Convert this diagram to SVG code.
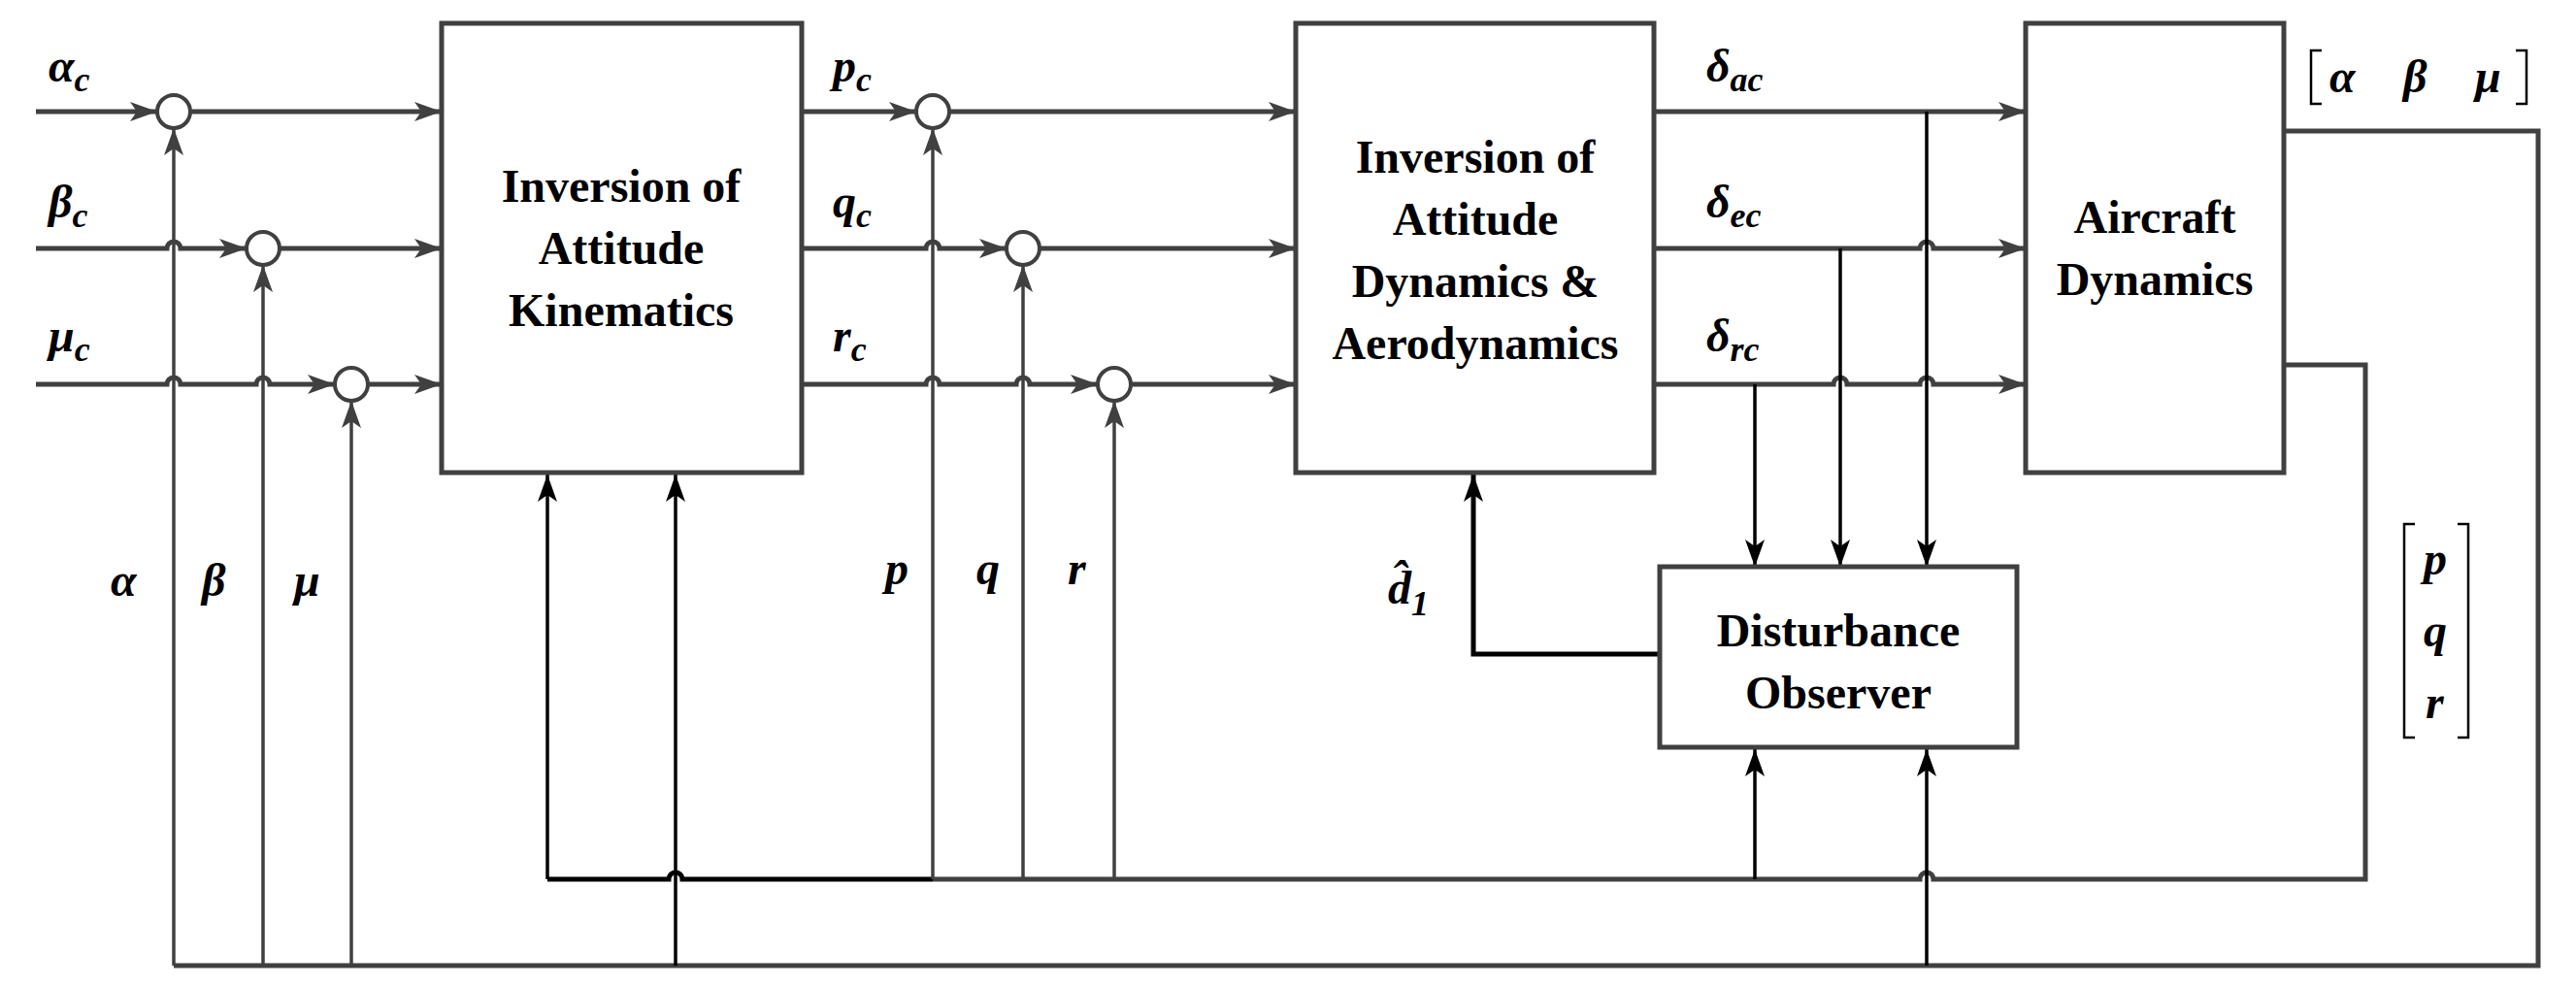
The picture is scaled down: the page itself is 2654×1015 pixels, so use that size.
<svg xmlns="http://www.w3.org/2000/svg" width="2654" height="1015" viewBox="0 0 2654 1015">
<style>
.box{fill:#fff;stroke:#404040;stroke-width:5}
.bt{font-family:"Liberation Serif",serif;font-weight:bold;font-size:48px;text-anchor:middle;fill:#000}
.lb{font-family:"Liberation Serif",serif;font-style:italic;font-weight:bold;font-size:48px;fill:#000}
.sub{font-size:36px}
.g{fill:none;stroke:#404040;stroke-width:5}
.gt{fill:none;stroke:#404040;stroke-width:3.5}
.k{fill:none;stroke:#000;stroke-width:3.5}
.kb{fill:none;stroke:#000;stroke-width:5}
.sum{fill:#fff;stroke:#404040;stroke-width:4}
.br{fill:none;stroke:#000;stroke-width:2.5}
</style>
<defs>
<marker id="ag" markerUnits="userSpaceOnUse" markerWidth="30" markerHeight="20" refX="28" refY="10" orient="auto"><path d="M0,0 L28,10 L0,20 L7,10 Z" fill="#404040"/></marker>
<marker id="ak" markerUnits="userSpaceOnUse" markerWidth="30" markerHeight="20" refX="28" refY="10" orient="auto"><path d="M0,0 L28,10 L0,20 L7,10 Z" fill="#000"/></marker>
</defs>
<g id="connectors">
<path class="g" d="M37,115 H162" marker-end="url(#ag)"/>
<path class="g" d="M37,256 H172 A7 7 0 0 1 186 256 H254" marker-end="url(#ag)"/>
<path class="g" d="M37,396 H172 A7 7 0 0 1 186 396 H264 A7 7 0 0 1 278 396 H345" marker-end="url(#ag)"/>
<path class="g" d="M196,115 H455" marker-end="url(#ag)"/>
<path class="g" d="M288,256 H455" marker-end="url(#ag)"/>
<path class="g" d="M379,396 H455" marker-end="url(#ag)"/>
<path class="g" d="M826,115 H944" marker-end="url(#ag)"/>
<path class="g" d="M826,256 H954 A7 7 0 0 1 968 256 H1037" marker-end="url(#ag)"/>
<path class="g" d="M826,396 H954 A7 7 0 0 1 968 396 H1047 A7 7 0 0 1 1061 396 H1131" marker-end="url(#ag)"/>
<path class="g" d="M978,115 H1335" marker-end="url(#ag)"/>
<path class="g" d="M1071,256 H1335" marker-end="url(#ag)"/>
<path class="g" d="M1165,396 H1335" marker-end="url(#ag)"/>
<path class="g" d="M1704,115 H2087" marker-end="url(#ag)"/>
<path class="g" d="M1704,256 H1978 A7 7 0 0 1 1992 256 H2087" marker-end="url(#ag)"/>
<path class="g" d="M1704,396 H1889 A7 7 0 0 1 1903 396 H1978 A7 7 0 0 1 1992 396 H2087" marker-end="url(#ag)"/>
<path class="k" d="M1808,396 V584" marker-end="url(#ak)"/>
<path class="k" d="M1896,256 V584" marker-end="url(#ak)"/>
<path class="k" d="M1985,115 V584" marker-end="url(#ak)"/>
<path class="kb" d="M1710,674 H1518 V489" marker-end="url(#ak)"/>
<path class="g" d="M2353,135 H2615 V995 H179"/>
<path class="gt" d="M179,995 V132" marker-end="url(#ag)"/>
<path class="gt" d="M271,995 V273" marker-end="url(#ag)"/>
<path class="gt" d="M362,995 V413" marker-end="url(#ag)"/>
<path class="g" d="M2353,376 H2437 V906 H1992 A7 7 0 0 0 1978 906 H961"/>
<path class="kb" d="M961,906 H703 A7 7 0 0 0 689 906 H564"/>
<path class="gt" d="M961,906 V132" marker-end="url(#ag)"/>
<path class="gt" d="M1054,906 V273" marker-end="url(#ag)"/>
<path class="gt" d="M1148,906 V413" marker-end="url(#ag)"/>
<path class="k" d="M564,906 V489" marker-end="url(#ak)"/>
<path class="k" d="M696,995 V489" marker-end="url(#ak)"/>
<path class="k" d="M1808,906 V772" marker-end="url(#ak)"/>
<path class="k" d="M1985,995 V772" marker-end="url(#ak)"/>
</g>
<g id="sum1"><circle class="sum" cx="179" cy="115" r="17"/></g>
<g id="sum2"><circle class="sum" cx="271" cy="256" r="17"/></g>
<g id="sum3"><circle class="sum" cx="362" cy="396" r="17"/></g>
<g id="sum4"><circle class="sum" cx="961" cy="115" r="17"/></g>
<g id="sum5"><circle class="sum" cx="1054" cy="256" r="17"/></g>
<g id="sum6"><circle class="sum" cx="1148" cy="396" r="17"/></g>
<g id="kinematics"><rect class="box" x="455" y="24" width="371" height="463"/>
<text class="bt" x="640" y="208">Inversion of</text><text class="bt" x="640" y="272">Attitude</text><text class="bt" x="640" y="336">Kinematics</text></g>
<g id="dynamics"><rect class="box" x="1335" y="24" width="369" height="463"/>
<text class="bt" x="1520" y="178">Inversion of</text><text class="bt" x="1520" y="242">Attitude</text><text class="bt" x="1520" y="306">Dynamics &amp;</text><text class="bt" x="1520" y="370">Aerodynamics</text></g>
<g id="aircraft"><rect class="box" x="2087" y="24" width="266" height="463"/>
<text class="bt" x="2220" y="240">Aircraft</text><text class="bt" x="2220" y="304">Dynamics</text></g>
<g id="observer"><rect class="box" x="1710" y="584" width="368" height="186"/>
<text class="bt" x="1894" y="666">Disturbance</text><text class="bt" x="1894" y="730">Observer</text></g>
<g id="labels">
<text class="lb" x="50" y="84">α<tspan class="sub" dy="10">c</tspan></text>
<text class="lb" x="50" y="224">β<tspan class="sub" dy="10">c</tspan></text>
<text class="lb" x="50" y="362">μ<tspan class="sub" dy="10">c</tspan></text>
<text class="lb" x="858" y="84">p<tspan class="sub" dy="10">c</tspan></text>
<text class="lb" x="858" y="224">q<tspan class="sub" dy="10">c</tspan></text>
<text class="lb" x="858" y="362">r<tspan class="sub" dy="10">c</tspan></text>
<text class="lb" x="1758" y="84">δ<tspan class="sub" dy="10">ac</tspan></text>
<text class="lb" x="1758" y="224">δ<tspan class="sub" dy="10">ec</tspan></text>
<text class="lb" x="1758" y="362">δ<tspan class="sub" dy="10">rc</tspan></text>
<text class="lb" x="114" y="614">α</text>
<text class="lb" x="208" y="614">β</text>
<text class="lb" x="303" y="614">μ</text>
<text class="lb" x="912" y="602">p</text>
<text class="lb" x="1006" y="602">q</text>
<text class="lb" x="1100" y="602">r</text>
<text class="lb" x="1430" y="622">d̂<tspan class="sub" dy="12">1</tspan></text>
<text class="lb" x="2400" y="95">α</text>
<text class="lb" x="2476" y="95">β</text>
<text class="lb" x="2550" y="95">μ</text>
<path class="br" d="M2392,52 H2381 V107 H2392 M2592,52 H2603 V107 H2592"/>
<text class="lb" x="2497" y="592">p</text>
<text class="lb" x="2497" y="666">q</text>
<text class="lb" x="2499" y="740">r</text>
<path class="br" d="M2488,540 H2477 V760 H2488 M2532,540 H2543 V760 H2532"/>
</g>
</svg>
